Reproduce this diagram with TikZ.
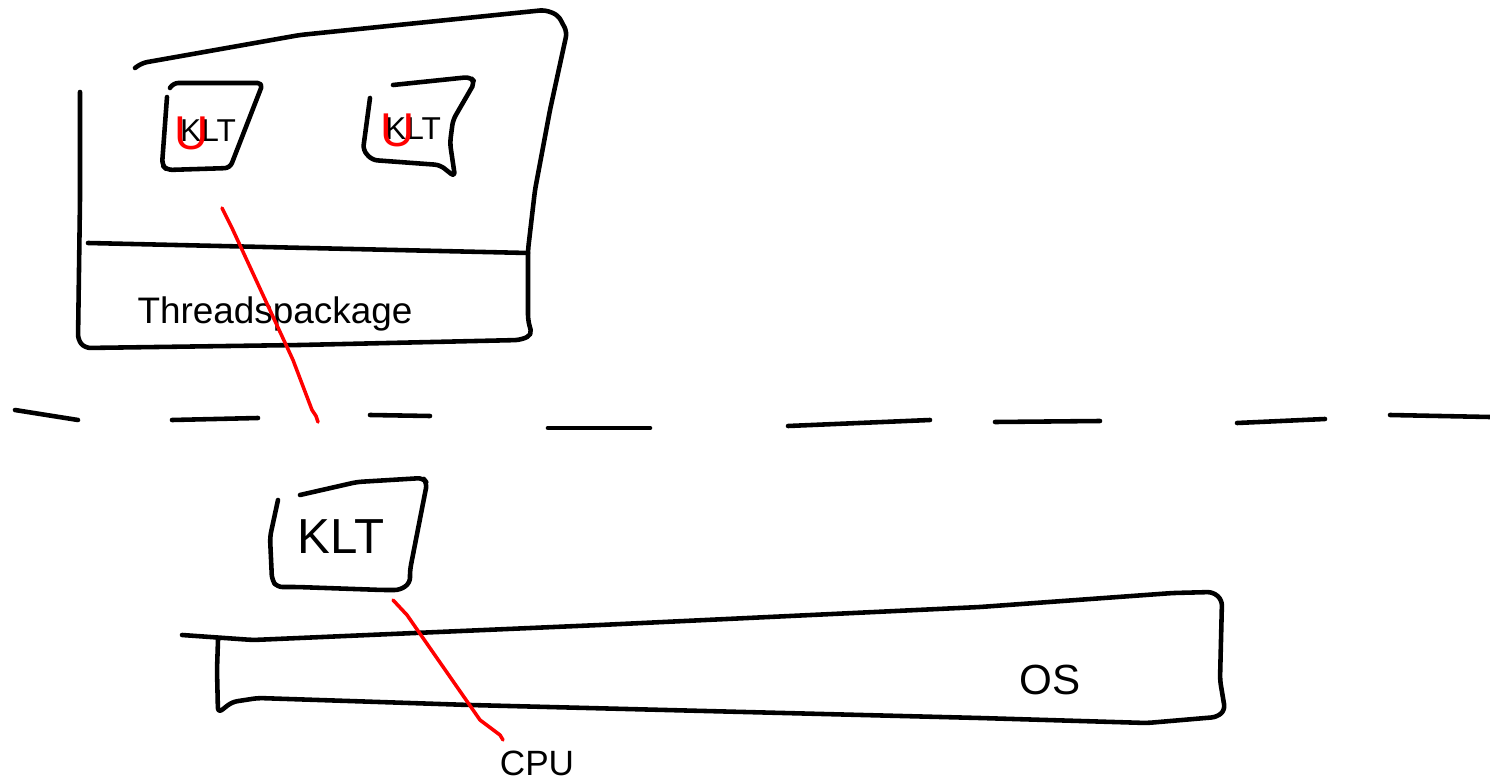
\documentclass[tikz,border=0pt]{standalone}
\usepackage{fontspec}
\setmainfont{Liberation Sans}
\usetikzlibrary{positioning}

\begin{document}
\begin{tikzpicture}[x=0.02cm, y=-0.02cm,
    sketch/.style={line width=2.6pt, line cap=round, line join=round, rounded corners=3pt},
    mapline/.style={red, line width=2pt, line cap=round, line join=round},
    hand/.style={inner sep=0pt}]
    \useasboundingbox (0,0) rectangle (1490,780);

    % Threads package (user space)
    \draw[sketch] (135,68) -- (142,63) -- (300,35) -- (545,10) -- (558,15) -- (567,32) -- (550,110)
        -- (535,190) -- (528,250) -- (528,320) -- (532,335) -- (520,340) -- (300,345) -- (85,348)
        -- (78,340) -- (80,200) -- (80,92);
    \draw[sketch] (88,243) -- (528,253);
    \node[hand, anchor=base, font=\fontsize{21}{25}\selectfont] (pkg) at (275,324) {Threadspackage};

    % User-level threads
    \draw[sketch] (170,88) -- (173,83) -- (263,83) -- (230,168) -- (167,170) -- (162,165) -- (167,97);
    \draw[sketch] (393,85) -- (470,77) -- (475,82) -- (453,120) -- (450,143) -- (455,177)
        -- (440,165) -- (372,160) -- (363,150) -- (370,98);
    \node[hand, font=\fontsize{18}{22}\selectfont] (klt1) at (208,131) {KLT};
    \node[hand, font=\fontsize{18}{22}\selectfont] (klt2) at (413,129) {KLT};
    \node[hand, red, font=\fontsize{27}{30}\selectfont] (ult1) at (192,133) {U};
    \node[hand, red, font=\fontsize{27}{30}\selectfont] (ult2) at (398,130) {U};

    % Mapping to kernel
    \coordinate (map1a) at (222,208);
    \coordinate (map1b) at (318,422);
    \draw[mapline] (map1a) -- (232,228) -- (293,360) -- (312,410) -- (316,416) -- (map1b);

    % User/kernel boundary
    \foreach \xa/\ya/\xb/\yb in {15/410/78/420, 172/420/258/418, 370/415/430/416, 548/428/650/428,
        788/426/930/420, 995/422/1100/421, 1237/423/1325/419, 1390/415/1490/417} {
        \draw[sketch] (\xa,\ya) -- (\xb,\yb);
    }

    % Kernel-level thread
    \draw[sketch] (300,495) -- (357,482) -- (423,478) -- (427,483) -- (410,570) -- (410,583)
        -- (400,590) -- (383,590) -- (297,587) -- (277,587) -- (272,580) -- (270,537) -- (278,500);
    \node[hand, font=\fontsize{28}{32}\selectfont] (klt) at (341,537) {KLT};

    % Operating system
    \draw[sketch] (182,635) -- (253,640) -- (600,625) -- (980,607) -- (1173,593) -- (1213,592)
        -- (1222,600) -- (1220,680) -- (1225,710) -- (1217,717) -- (1147,723) -- (980,718)
        -- (470,705) -- (258,698) -- (232,702) -- (218,713) -- (217,670) -- (218,640);
    \node[hand, font=\fontsize{24}{28}\selectfont] (os) at (1050,680) {OS};

    % CPU
    \node[hand, font=\fontsize{20}{24}\selectfont] (cpu) at (537,763) {CPU};
    \coordinate (map2a) at (393,600);
    \coordinate (map2b) at (503,740);
    \draw[mapline] (map2a) -- (407,615) -- (480,720) -- (500,735) -- (map2b);

\end{tikzpicture}
\end{document}
